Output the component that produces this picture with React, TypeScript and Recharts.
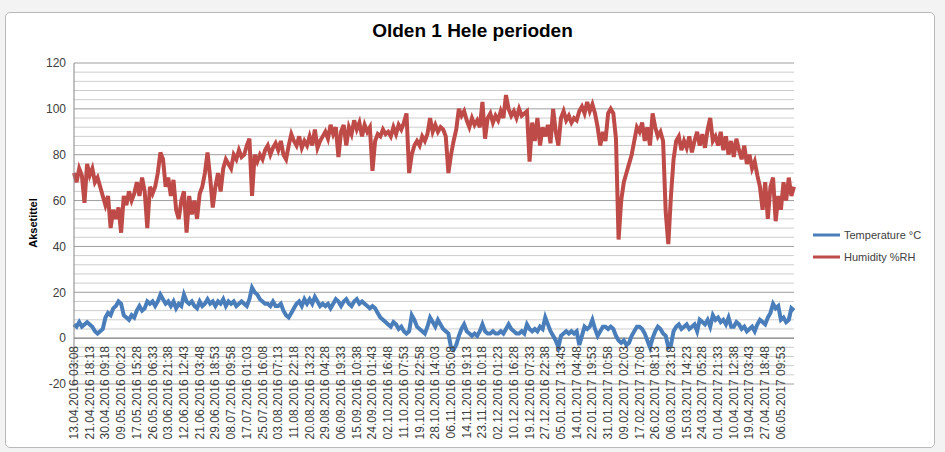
import {
  LineChart,
  Line,
  XAxis,
  YAxis,
  CartesianGrid,
  ReferenceLine,
} from "recharts";

// one label every 6 readings
const STEP = 6;

const timeLabels = [
  "13.04.2016 03:08", "21.04.2016 18:13", "30.04.2016 09:18", "09.05.2016 00:23",
  "17.05.2016 15:28", "26.05.2016 06:33", "03.06.2016 21:38", "12.06.2016 12:43",
  "21.06.2016 03:48", "29.06.2016 18:53", "08.07.2016 09:58", "17.07.2016 01:03",
  "25.07.2016 16:08", "03.08.2016 07:13", "11.08.2016 22:18", "20.08.2016 13:23",
  "29.08.2016 04:28", "06.09.2016 19:33", "15.09.2016 10:38", "24.09.2016 01:43",
  "02.10.2016 16:48", "11.10.2016 07:53", "19.10.2016 22:58", "28.10.2016 14:03",
  "06.11.2016 05:08", "14.11.2016 19:13", "23.11.2016 10:18", "02.12.2016 01:23",
  "10.12.2016 16:28", "19.12.2016 07:33", "27.12.2016 22:38", "05.01.2017 13:43",
  "14.01.2017 04:48", "22.01.2017 19:53", "31.01.2017 10:58", "09.02.2017 02:03",
  "17.02.2017 17:08", "26.02.2017 08:13", "06.03.2017 23:18", "15.03.2017 14:23",
  "24.03.2017 05:28", "01.04.2017 21:33", "10.04.2017 12:38", "19.04.2017 03:43",
  "27.04.2017 18:48", "06.05.2017 09:53",
];

const temperature = [
  6, 5, 7, 5, 6, 7,
  6, 5, 3, 2, 3, 4,
  9, 11, 10, 13, 14, 16,
  15, 10, 9, 8, 10, 9,
  12, 14, 12, 13, 16, 15,
  16, 14, 16, 19, 17, 15,
  16, 14, 16, 13, 15, 14,
  19, 16, 15, 16, 14, 13,
  16, 14, 15, 17, 15, 16,
  14, 16, 15, 17, 14, 16,
  15, 16, 14, 15, 16, 15,
  14, 17, 22, 20, 19, 17,
  16, 15, 15, 14, 16, 14,
  14, 15, 12, 10, 9, 11,
  13, 15, 16, 14, 17, 15,
  17, 15, 18, 16, 14, 15,
  14, 15, 13, 15, 17, 16,
  14, 16, 17, 15, 14, 16,
  17, 15, 16, 15, 14, 13,
  14, 13, 11, 9, 8, 7,
  6, 5, 7, 6, 4, 5,
  3, 2, 3, 10, 8, 5,
  4, 3, 2, 5, 9, 7,
  5, 8, 6, 4, 3, 2,
  -4, -5, -3, 1, 4, 6,
  3, 2, 1, 2, 1, 3,
  6, 3, 2, 2, 3, 2,
  2, 3, 2, 4, 6, 4,
  3, 2, 2, 3, 2, 6,
  4, 3, 4, 3, 5, 4,
  9, 6, 3, 1, -1, -4,
  1, 2, 3, 2, 3, 2,
  3, -3, 1, 5, 4, 5,
  8, 4, 1, 3, 5, 5,
  4, 5, 4, 1, -1, -2,
  -1, -3, -2, 1, 3, 5,
  5, 4, 2, -1, -4, 0,
  3, 5, 4, 2, 1, -4,
  -3, 3, 5, 6, 4, 5,
  6, 4, 5, 6, 3, 8,
  7, 6, 8, 5, 10, 8,
  9, 7, 8, 6, 9, 5,
  5, 7, 6, 4, 5, 3,
  4, 5, 3, 6, 8, 7,
  6, 9, 11, 15, 13, 14,
  8, 9, 7, 8, 13, 12,
];

const humidity = [
  72, 68, 74, 71, 59, 76,
  71, 74, 68, 70, 66, 62,
  58, 62, 48, 56, 52, 57,
  46, 62, 58, 64, 60, 63,
  68, 62, 70, 64, 48, 66,
  63, 66, 72, 81, 78, 66,
  70, 62, 69, 56, 52, 60,
  64, 46, 62, 54, 60, 52,
  63, 66, 72, 81, 70, 57,
  66, 72, 64, 74, 78, 76,
  74, 80, 78, 82, 79, 80,
  84, 87, 62, 80, 77, 80,
  78, 82, 84, 80, 83, 85,
  82, 86, 80, 78, 84, 89,
  86, 84, 88, 83, 86, 84,
  88, 84, 91, 83, 86, 88,
  90, 87, 93, 89, 92, 79,
  90, 93, 84, 92, 89, 95,
  91, 94, 88, 93, 90, 92,
  73, 86, 89, 88, 91, 89,
  90, 88, 92, 89, 93, 91,
  94, 98, 72, 80, 84, 86,
  84, 88, 86, 89, 96, 90,
  93, 90, 92, 91, 88, 72,
  80, 86, 91, 100, 97, 99,
  95, 92, 96, 93, 95, 92,
  103, 87, 96, 98, 94, 97,
  95, 99, 96, 106, 100, 97,
  99, 96, 100, 97, 98, 99,
  77, 94, 86, 96, 84, 92,
  88, 93, 85, 100, 90, 84,
  96, 99, 95, 97, 94, 96,
  95, 99, 101, 98, 103, 99,
  102, 98, 92, 84, 90, 86,
  98, 100, 98, 87, 43, 60,
  68, 72, 76, 80, 86, 92,
  90, 94, 86, 92, 84, 98,
  92, 88, 90, 86, 55, 41,
  62, 78, 86, 88, 82, 86,
  83, 88, 81, 86, 90, 84,
  89, 83, 91, 96, 86, 88,
  84, 90, 82, 88, 80, 86,
  79, 87, 82, 78, 84, 76,
  80, 74, 77, 71, 66, 56,
  68, 52, 66, 70, 51, 62,
  56, 68, 60, 70, 62, 66,
];

const majorTicks = [-20, 0, 20, 40, 60, 80, 100, 120];
const minorTicks = [
  -16, -12, -8, -4, 4, 8, 12, 16, 24, 28, 32, 36, 44, 48, 52, 56,
  64, 68, 72, 76, 84, 88, 92, 96, 104, 108, 112, 116,
];
const labelTicks = timeLabels.map((_, k) => k * STEP);

const data = humidity.map((h, i) => ({ i, hum: h, temp: temperature[i] }));

const FONT = "'Liberation Sans', Arial, sans-serif";
const TEXT = "#404040";
const BLUE = "#4a7ebb";
const RED = "#be4b48";

// x labels sit under the zero line, as in Excel
const ZERO_SHIFT = 46;

function TimeTick({ x, y, payload }: any) {
  const label = timeLabels[Math.round(payload.value / STEP)] ?? "";
  const ty = y - ZERO_SHIFT;
  return (
    <text
      x={x}
      y={ty}
      transform={`rotate(-90, ${x}, ${ty})`}
      textAnchor="end"
      dominantBaseline="central"
      fontSize={12}
      fontFamily={FONT}
      fill={TEXT}
    >
      {label}
    </text>
  );
}

const legendItems = [
  { name: "Temperature °C", color: BLUE },
  { name: "Humidity %RH", color: RED },
];

export default function App() {
  return (
    <div
      style={{
        position: "absolute",
        left: 0,
        top: 0,
        width: 945,
        height: 452,
        background: "#f3f3f3",
        overflow: "hidden",
      }}
    >
      <div
        style={{
          position: "absolute",
          left: 5,
          top: 12,
          width: 928,
          height: 434,
          background: "#fff",
          border: "1px solid #b9b9b9",
          borderRadius: 5,
        }}
      />
      <div
        style={{
          position: "absolute",
          left: 0,
          top: 20,
          width: 945,
          textAlign: "center",
          fontFamily: FONT,
          fontWeight: "bold",
          fontSize: 19,
          color: "#000",
        }}
      >
        Olden 1 Hele perioden
      </div>
      <div
        style={{
          position: "absolute",
          left: 33,
          top: 223,
          transform: "translate(-50%, -50%) rotate(-90deg)",
          fontFamily: FONT,
          fontWeight: "bold",
          fontSize: 11,
          color: "#000",
          whiteSpace: "nowrap",
        }}
      >
        Aksetittel
      </div>
      <div
        style={{
          position: "absolute",
          left: 812,
          top: 224,
          fontFamily: FONT,
          fontSize: 11,
          color: TEXT,
        }}
      >
        {legendItems.map((it) => (
          <div key={it.name} style={{ display: "flex", alignItems: "center", height: 22 }}>
            <svg width={30} height={10}>
              <line x1={1} y1={5} x2={28} y2={5} stroke={it.color} strokeWidth={3} />
            </svg>
            <span style={{ marginLeft: 2 }}>{it.name}</span>
          </div>
        ))}
      </div>
      <div style={{ position: "absolute", left: 0, top: 0 }}>
        <LineChart
          width={945}
          height={452}
          data={data}
          margin={{ top: 63, right: 151, bottom: 8, left: 44 }}
        >
          <CartesianGrid vertical={false} stroke="#9d9d9d" />
          {minorTicks.map((v) => (
            <ReferenceLine key={v} y={v} stroke="#cdcdcd" />
          ))}
          <XAxis
            type="number"
            dataKey="i"
            domain={[0, humidity.length - 1]}
            ticks={labelTicks}
            interval={0}
            height={60}
            axisLine={false}
            tickLine={false}
            tick={<TimeTick />}
          />
          <YAxis
            domain={[-20, 120]}
            ticks={majorTicks}
            interval={0}
            width={30}
            axisLine={{ stroke: "#868686" }}
            tickLine={false}
            tick={{ fontSize: 12, fontFamily: FONT, fill: TEXT }}
          />
          <ReferenceLine y={0} stroke="#868686" />
          <Line
            type="linear"
            dataKey="temp"
            stroke={BLUE}
            strokeWidth={4}
            dot={false}
            isAnimationActive={false}
          />
          <Line
            type="linear"
            dataKey="hum"
            stroke={RED}
            strokeWidth={4}
            dot={false}
            isAnimationActive={false}
          />
        </LineChart>
      </div>
    </div>
  );
}
